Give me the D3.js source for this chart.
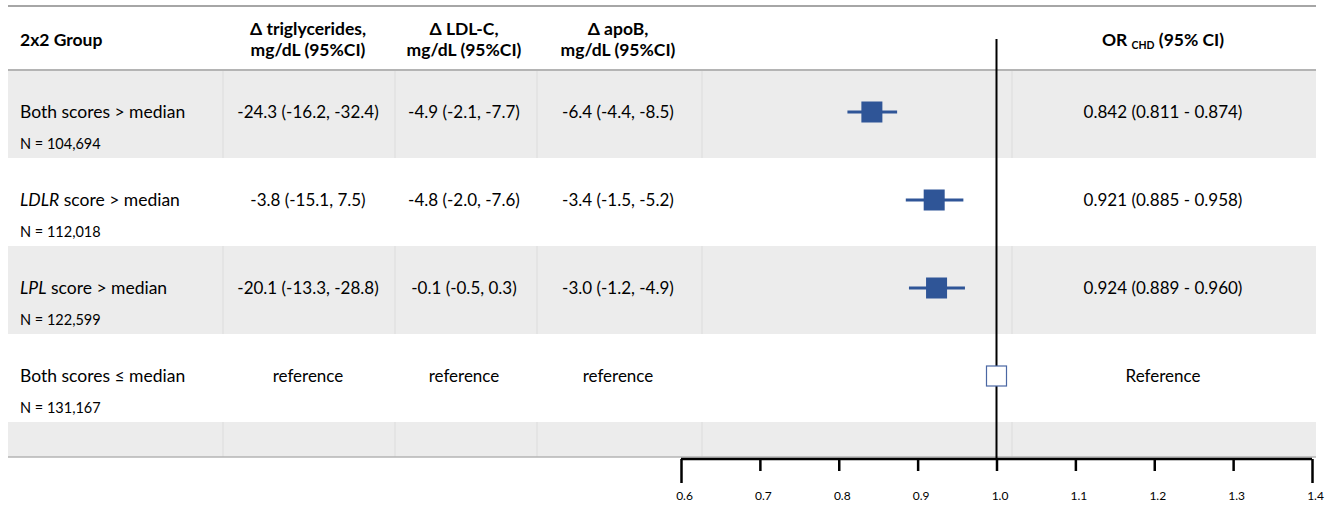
<!DOCTYPE html>
<html>
<head>
<meta charset="utf-8">
<script src="https://cdn.jsdelivr.net/npm/d3@7"></script>
<style>
  html, body { margin: 0; padding: 0; background: #ffffff; }
  svg { display: block; font-family: Lato, "Open Sans", sans-serif; }
</style>
</head>
<body>
<svg id="chart" width="1333" height="506"></svg>
<script>
// ---- data ----
const groupItalic = ["", "LDLR", "LPL", ""];
const groupText = ["Both scores > median", " score > median", " score > median", "Both scores \u2264 median"];
const nLabels = ["N = 104,694", "N = 112,018", "N = 122,599", "N = 131,167"];

const tgEst = [-24.3, -3.8, -20.1, null];
const tgLo  = [-16.2, -15.1, -13.3, null];
const tgHi  = [-32.4, 7.5, -28.8, null];

const ldlEst = [-4.9, -4.8, -0.1, null];
const ldlLo  = [-2.1, -2.0, -0.5, null];
const ldlHi  = [-7.7, -7.6, 0.3, null];

const apobEst = [-6.4, -3.4, -3.0, null];
const apobLo  = [-4.4, -1.5, -1.2, null];
const apobHi  = [-8.5, -5.2, -4.9, null];

const orEst = [0.842, 0.921, 0.924, 1.0];
const orLo  = [0.811, 0.885, 0.889, null];
const orHi  = [0.874, 0.958, 0.960, null];

const axisTicks = [0.6, 0.7, 0.8, 0.9, 1.0, 1.1, 1.2, 1.3, 1.4];
const refText = "reference";
const refTextOR = "Reference";

// ---- layout ----
const svg = d3.select("#chart");
const left = 8, right = 1316;
const headerTop = 6, headerBottom = 70;
const rowH = 88;
const x = d3.scaleLinear().domain([0.6, 1.4]).range([681, 1312]);
const rows = d3.range(groupText.length);
const y = d3.scaleBand().domain(rows).range([headerBottom, headerBottom + rowH * rows.length]).padding(0);
const extraTop = headerBottom + rowH * rows.length;
const extraBottom = 457;
const seps = [223, 395, 537, 702, 1012];
const colCenters = [308, 464, 618];
const orCenter = 1163;

// row backgrounds
rows.forEach(i => {
  if (i % 2 === 0) {
    svg.append("rect").attr("x", left).attr("y", y(i)).attr("width", right - left).attr("height", y.bandwidth()).attr("fill", "#ececec");
    seps.forEach(s => svg.append("line").attr("x1", s).attr("x2", s).attr("y1", y(i)).attr("y2", y(i) + y.bandwidth()).attr("stroke", "#dcdcdc").attr("stroke-width", 1));
  }
});
svg.append("rect").attr("x", left).attr("y", extraTop).attr("width", right - left).attr("height", extraBottom - extraTop).attr("fill", "#ececec");
seps.forEach(s => svg.append("line").attr("x1", s).attr("x2", s).attr("y1", extraTop).attr("y2", extraBottom).attr("stroke", "#dcdcdc").attr("stroke-width", 1));

// horizontal rules
svg.append("line").attr("x1", left).attr("x2", right).attr("y1", headerTop).attr("y2", headerTop).attr("stroke", "#a6a6a6").attr("stroke-width", 2);
svg.append("line").attr("x1", left).attr("x2", right).attr("y1", headerBottom).attr("y2", headerBottom).attr("stroke", "#b4b4b4").attr("stroke-width", 2);
svg.append("line").attr("x1", left).attr("x2", right).attr("y1", extraBottom).attr("y2", extraBottom).attr("stroke", "#b4b4b4").attr("stroke-width", 1.5);

// header
const hdr = svg.append("g").attr("font-weight", "bold").attr("font-size", 17.5).attr("fill", "#000");
hdr.append("text").attr("x", 20).attr("y", 46).text("2x2 Group");
const hdrCols = [["\u0394 triglycerides,", "mg/dL (95%CI)"], ["\u0394 LDL-C,", "mg/dL (95%CI)"], ["\u0394 apoB,", "mg/dL (95%CI)"]];
hdrCols.forEach((h, k) => {
  hdr.append("text").attr("x", colCenters[k]).attr("y", 35).attr("text-anchor", "middle").text(h[0]);
  hdr.append("text").attr("x", colCenters[k]).attr("y", 56).attr("text-anchor", "middle").text(h[1]);
});
const orHdr = hdr.append("text").attr("x", orCenter).attr("y", 46).attr("text-anchor", "middle");
orHdr.append("tspan").text("OR ");
orHdr.append("tspan").attr("font-size", 10.5).attr("dy", 3).text("CHD");
orHdr.append("tspan").attr("dy", -3).text(" (95% CI)");

// row text
const fmt1 = v => v.toFixed(1);
const fmt3 = v => v.toFixed(3);
const colData = [[tgEst, tgLo, tgHi], [ldlEst, ldlLo, ldlHi], [apobEst, apobLo, apobHi]];
rows.forEach(i => {
  const top = y(i);
  const t = svg.append("text").attr("x", 20).attr("y", top + 48).attr("font-size", 17.5).attr("fill", "#000");
  if (groupItalic[i]) t.append("tspan").attr("font-style", "italic").text(groupItalic[i]);
  t.append("tspan").text(groupText[i]);
  svg.append("text").attr("x", 20).attr("y", top + 79).attr("font-size", 14.5).attr("fill", "#000").text(nLabels[i]);
  colData.forEach((c, k) => {
    const label = c[0][i] === null ? refText : `${fmt1(c[0][i])} (${fmt1(c[1][i])}, ${fmt1(c[2][i])})`;
    svg.append("text").attr("x", colCenters[k]).attr("y", top + 48).attr("text-anchor", "middle").attr("font-size", 17).attr("fill", "#000").text(label);
  });
  const orLabel = orLo[i] === null ? refTextOR : `${fmt3(orEst[i])} (${fmt3(orLo[i])} - ${fmt3(orHi[i])})`;
  svg.append("text").attr("x", orCenter).attr("y", top + 48).attr("text-anchor", "middle").attr("font-size", 17).attr("fill", "#000").text(orLabel);
});

// reference vertical line
svg.append("line").attr("x1", x(1.0)).attr("x2", x(1.0)).attr("y1", 39).attr("y2", 459).attr("stroke", "#000").attr("stroke-width", 2);

// forest marks
const blue = "#2f5597";
const sq = 21;
rows.forEach(i => {
  const cy = y(i) + 42;
  if (orLo[i] !== null) {
    svg.append("line").attr("x1", x(orLo[i])).attr("x2", x(orHi[i])).attr("y1", cy).attr("y2", cy).attr("stroke", blue).attr("stroke-width", 3);
    svg.append("rect").attr("x", x(orEst[i]) - sq / 2).attr("y", cy - sq / 2).attr("width", sq).attr("height", sq).attr("fill", blue);
  } else {
    svg.append("rect").attr("x", x(orEst[i]) - 10).attr("y", cy - 10).attr("width", 20).attr("height", 20).attr("fill", "#fff").attr("stroke", "#4a67a3").attr("stroke-width", 1.2);
  }
});

// axis
const axis = d3.axisBottom(x).tickValues(axisTicks).tickFormat(d3.format(".1f")).tickSize(12).tickPadding(20);
const ag = svg.append("g").attr("transform", "translate(0,459)").call(axis);
ag.select(".domain").attr("stroke", "#000").attr("stroke-width", 2.5).attr("d", `M${x(0.6)},0H${x(1.4)}`);
ag.selectAll(".tick line").attr("stroke", "#000").attr("stroke-width", 2.5)
  .attr("y2", d => (d === 0.6 || d === 1.4) ? 24 : 12);
ag.selectAll(".tick text").attr("font-size", 12).attr("fill", "#000").attr("font-family", "Lato, sans-serif").attr("dx", 3);
</script>
</body>
</html>
